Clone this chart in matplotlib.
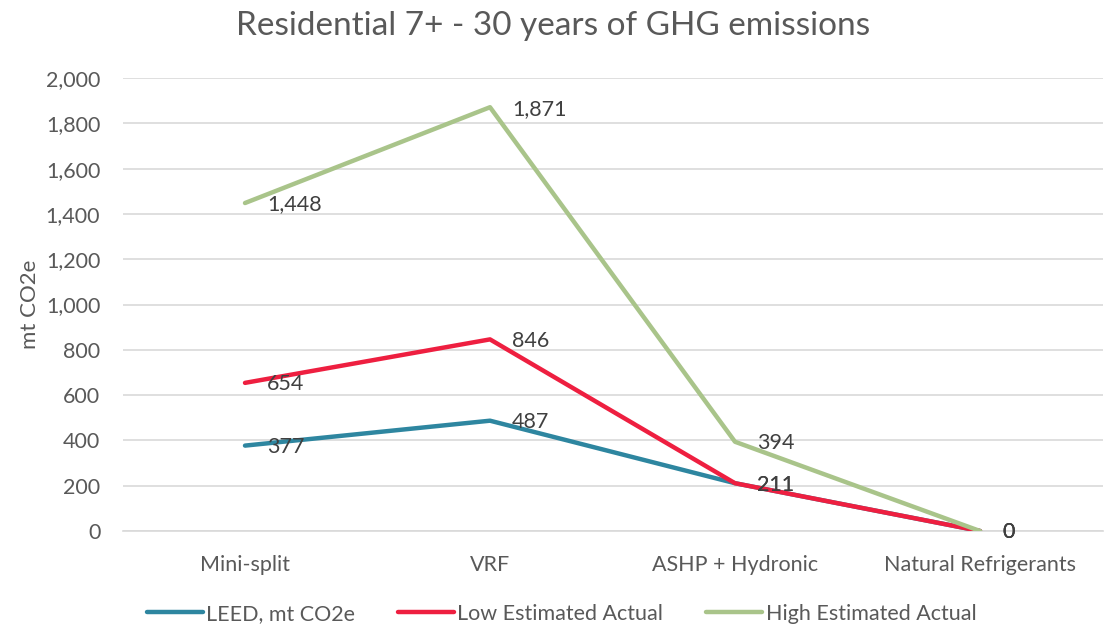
import matplotlib
matplotlib.use("Agg")
import matplotlib.pyplot as plt
from matplotlib.ticker import FuncFormatter

categories = ["Mini-split", "VRF", "ASHP + Hydronic", "Natural Refrigerants"]
leed = [377, 487, 211, 0]
low_est = [654, 846, 211, 0]
high_est = [1448, 1871, 394, 0]
series_names = ["LEED, mt CO2e", "Low Estimated Actual", "High Estimated Actual"]

C_LEED = "#2E86A0"
C_LOW = "#EE1F40"
C_HIGH = "#A9C48A"
C_TEXT = "#404040"
C_TICK = "#595959"

plt.rcParams["font.family"] = ["Lato", "DejaVu Sans"]

fig = plt.figure(figsize=(11.12, 6.31), dpi=100)
ax = fig.add_axes([122.5 / 1112, 1 - 531 / 631, 980 / 1112, (531 - 78) / 631])

x = list(range(len(categories)))
for vals, col, name in [(leed, C_LEED, series_names[0]),
                        (low_est, C_LOW, series_names[1]),
                        (high_est, C_HIGH, series_names[2])]:
    ax.plot(x, vals, color=col, lw=3.2, label=name, solid_capstyle="round",
            solid_joinstyle="round", zorder=3)
    for xi, v in zip(x, vals):
        ax.annotate(f"{v:,}", (xi, v), xytext=(16, -1), textcoords="offset points",
                    ha="left", va="center", fontsize=15.5, color=C_TEXT, zorder=4)

ax.set_xlim(-0.5, 3.5)
ax.set_ylim(0, 2000)
ax.set_yticks(range(0, 2001, 200))
ax.yaxis.set_major_formatter(FuncFormatter(lambda v, p: f"{int(v):,}"))
ax.set_xticks(x)
ax.set_xticklabels(categories)
ax.grid(axis="y", color="#D9D9D9", lw=1.2, zorder=0)
ax.set_axisbelow(True)
for s in ["top", "right", "left"]:
    ax.spines[s].set_visible(False)
ax.spines["bottom"].set_color("#D9D9D9")
ax.spines["bottom"].set_linewidth(1.2)
ax.tick_params(axis="both", length=0, labelsize=15.5, colors=C_TICK)
ax.tick_params(axis="x", pad=17)
ax.tick_params(axis="y", pad=16)
ax.set_ylabel("mt CO2e", fontsize=16, color=C_TICK, labelpad=4)

fig.suptitle("Residential 7+ - 30 years of GHG emissions", fontsize=24,
             color=C_TICK, x=0.497, y=0.983)

fig.legend(loc="center", bbox_to_anchor=(0.505, 1 - 614 / 631), ncol=3, frameon=False,
           fontsize=15.5, handlelength=2.6, handletextpad=0.15, columnspacing=2.0,
           labelcolor=C_TICK)

fig.savefig("out.png", dpi=100)
